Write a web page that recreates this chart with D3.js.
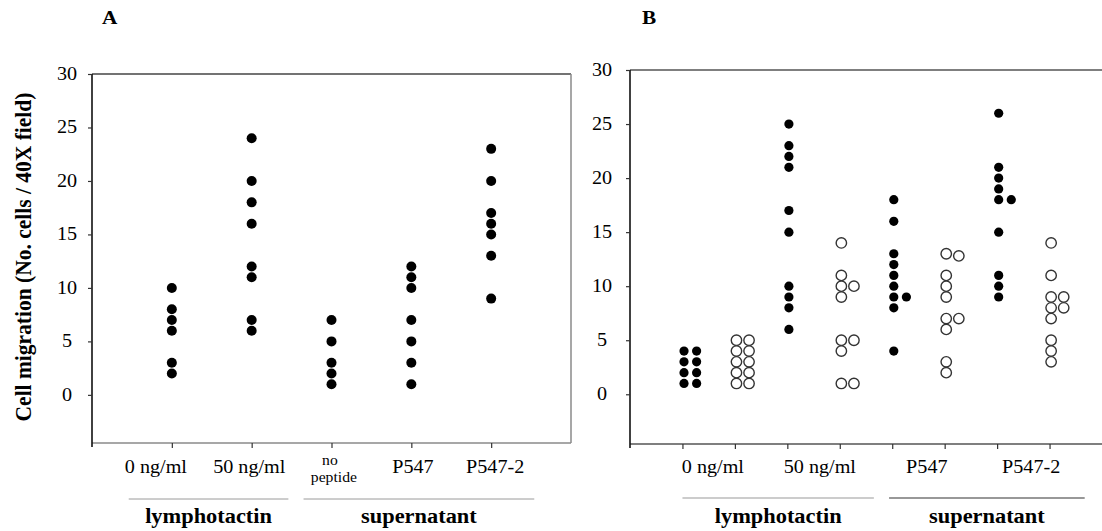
<!DOCTYPE html>
<html>
<head>
<meta charset="utf-8">
<script src="https://cdn.jsdelivr.net/npm/d3@7"></script>
<style>
  html, body { margin: 0; padding: 0; background: #fff; }
  svg { display: block; }
  text { font-family: "Liberation Serif", "Times New Roman", serif; fill: #000; }
</style>
</head>
<body>
<svg id="chart" width="1102" height="531"></svg>
<script>
// ---------------- DATA ----------------
const yTicks = [0, 5, 10, 15, 20, 25, 30];

// Panel A
const aCategories = ["0 ng/ml", "50 ng/ml", "no peptide", "P547", "P547-2"];
const aPositions = [1, 2, 3, 4, 5];
const aLabelPositions = [0.8, 1.97, 3.03, 4.02, 5.05];
const aValues = [
  [10, 8, 7, 6, 3, 2],
  [24, 20, 18, 16, 12, 11, 7, 6],
  [7, 5, 3, 2, 1],
  [12, 11, 10, 7, 5, 3, 1],
  [23, 20, 17, 16, 15, 13, 9]
];
const aGroups = ["lymphotactin", "supernatant"];
const aGroupSpans = [[0.46, 2.46], [2.65, 5.54]];

// Panel B
const bCategories = ["0 ng/ml", "50 ng/ml", "P547", "P547-2"];
const bLabelPositions = [1.58, 3.62, 5.66, 7.65];
const bPositions = [1, 2, 3, 4, 5, 6, 7, 8];
const bFilled = [true, false, true, false, true, false, true, false];
const bColOffset = [0.03, 0.27];
const bCol1 = [
  [4, 3, 2, 1],
  [5, 4, 3, 2, 1],
  [25, 23, 22, 21, 17, 15, 10, 9, 8, 6],
  [14, 11, 10, 9, 5, 4, 1],
  [18, 16, 13, 12, 11, 10, 9, 8, 4],
  [13, 11, 10, 9, 7, 6, 3, 2],
  [26, 21, 20, 19, 18, 15, 11, 10, 9],
  [14, 11, 9, 8, 7, 5, 4, 3]
];
const bCol2 = [
  [4, 3, 2, 1],
  [5, 4, 3, 2, 1],
  [],
  [10, 5, 1],
  [9],
  [12.8, 7],
  [18],
  [9, 8]
];
const bGroups = ["lymphotactin", "supernatant"];
const bGroupSpans = [[1.0, 4.65], [4.94, 8.67]];

// ---------------- DRAW ----------------
const svg = d3.select("#chart");
const SX = 1.12; // horizontal stretch of the reference typography

function label(g, x, y, txt, size, weight, anchor, fill) {
  return g.append("text")
    .attr("transform", `translate(${x},${y}) scale(${SX},1)`)
    .attr("text-anchor", anchor || "middle")
    .style("font-size", size + "px")
    .style("font-weight", weight || "normal")
    .style("fill", fill || "#000")
    .text(txt);
}

function frame(g, x0, x1, yTop, yBot, colors, drawRight) {
  g.append("line").attr("x1", x0).attr("x2", x1).attr("y1", yTop).attr("y2", yTop)
    .attr("stroke", colors.top).attr("stroke-width", 1.5);
  g.append("line").attr("x1", x0).attr("x2", x1).attr("y1", yBot).attr("y2", yBot)
    .attr("stroke", colors.bottom).attr("stroke-width", 1.5);
  if (drawRight) {
    g.append("line").attr("x1", x1).attr("x2", x1).attr("y1", yTop).attr("y2", yBot)
      .attr("stroke", colors.right).attr("stroke-width", 1.5);
  }
}

function panel(opts) {
  const g = svg.append("g");
  const x = d3.scaleLinear().domain(opts.xDomain).range(opts.xRange);
  const y = d3.scaleLinear().domain(opts.yDomain).range(opts.yRange);
  const yTop = y(30), yBot = y(opts.yDomain[0]);

  frame(g, opts.xRange[0], opts.xRange[1], yTop, yBot, opts.frameColors, opts.drawRight);

  // y axis
  const ya = g.append("g").attr("transform", `translate(${opts.xRange[0]},0)`)
    .call(d3.axisLeft(y).tickValues(yTicks).tickSize(4).tickSizeOuter(0).tickFormat(""));
  ya.select(".domain").attr("stroke", "#111").attr("stroke-width", 1.6)
    .attr("d", `M0,${yTop}V${yBot + 4}`);
  ya.selectAll(".tick line").attr("stroke", "#333").attr("stroke-width", 1.2);
  yTicks.forEach(t => label(g, opts.xRange[0] - opts.yLabelGap, y(t) + 6, String(t), 18));

  // x axis ticks
  const xa = g.append("g").attr("transform", `translate(0,${yBot})`)
    .call(d3.axisBottom(x).tickValues(opts.tickPositions).tickSize(5).tickSizeOuter(0).tickFormat(""));
  xa.select(".domain").remove();
  xa.selectAll(".tick line").attr("stroke", "#333").attr("stroke-width", 1.2);

  // panel letter
  label(g, opts.letterX, 24, opts.letter, 19, "bold", "start");

  return { g, x, y };
}

// ---------- Panel A ----------
const A = panel({
  xDomain: [0, 6], xRange: [92, 571],
  yDomain: [-4.5, 30], yRange: [443, 74],
  frameColors: { top: "#444", bottom: "#8a8a8a", right: "#8a8a8a" },
  drawRight: true,
  tickPositions: aPositions,
  yLabelGap: 25,
  letter: "A", letterX: 102
});

aValues.forEach((vals, i) => {
  A.g.selectAll(null).data(vals).enter().append("circle")
    .attr("cx", A.x(aPositions[i]))
    .attr("cy", d => A.y(d))
    .attr("r", 5)
    .attr("fill", "#000");
});

aCategories.forEach((c, i) => {
  const cx = A.x(aLabelPositions[i]);
  if (c === "no peptide") {
    const parts = c.split(" ");
    label(A.g, cx - 4, 465, parts[0], 14);
    label(A.g, cx, 482, parts[1], 14);
  } else {
    label(A.g, cx, 473, c, 18);
  }
});

aGroups.forEach((gname, i) => {
  const [s, e] = aGroupSpans[i];
  A.g.append("line").attr("x1", A.x(s)).attr("x2", A.x(e)).attr("y1", 499).attr("y2", 499)
    .attr("stroke", "#9a9a9a").attr("stroke-width", 1);
  label(A.g, A.x((s + e) / 2), 523, gname, 20, "bold");
});

// y-axis title (panel A)
svg.append("text")
  .attr("transform", `translate(31,257) rotate(-90) scale(1,${SX})`)
  .attr("text-anchor", "middle")
  .style("font-size", "21.5px")
  .style("font-weight", "bold")
  .text("Cell migration (No. cells / 40X field)");

// ---------- Panel B ----------
const B = panel({
  xDomain: [0, 9], xRange: [630, 1102],
  yDomain: [-4.6, 30], yRange: [444, 70],
  frameColors: { top: "#555", bottom: "#555", right: "#555" },
  drawRight: false,
  tickPositions: bPositions,
  yLabelGap: 28,
  letter: "B", letterX: 642
});

bPositions.forEach((p, i) => {
  [bCol1[i], bCol2[i]].forEach((vals, c) => {
    const sel = B.g.selectAll(null).data(vals).enter().append("circle")
      .attr("cx", B.x(p + bColOffset[c]))
      .attr("cy", d => B.y(d));
    if (bFilled[i]) {
      sel.attr("r", 4.6).attr("fill", "#000");
    } else {
      sel.attr("r", 5.2).attr("fill", "#fff").attr("stroke", "#333").attr("stroke-width", 1.4);
    }
  });
});

bCategories.forEach((c, i) => {
  label(B.g, B.x(bLabelPositions[i]), 473, c, 18);
});

bGroups.forEach((gname, i) => {
  const [s, e] = bGroupSpans[i];
  B.g.append("line").attr("x1", B.x(s)).attr("x2", B.x(e)).attr("y1", 498).attr("y2", 498)
    .attr("stroke", i === 0 ? "#999" : "#333").attr("stroke-width", 1.2);
  label(B.g, B.x((s + e) / 2), 523, gname, 20, "bold");
});
</script>
</body>
</html>
